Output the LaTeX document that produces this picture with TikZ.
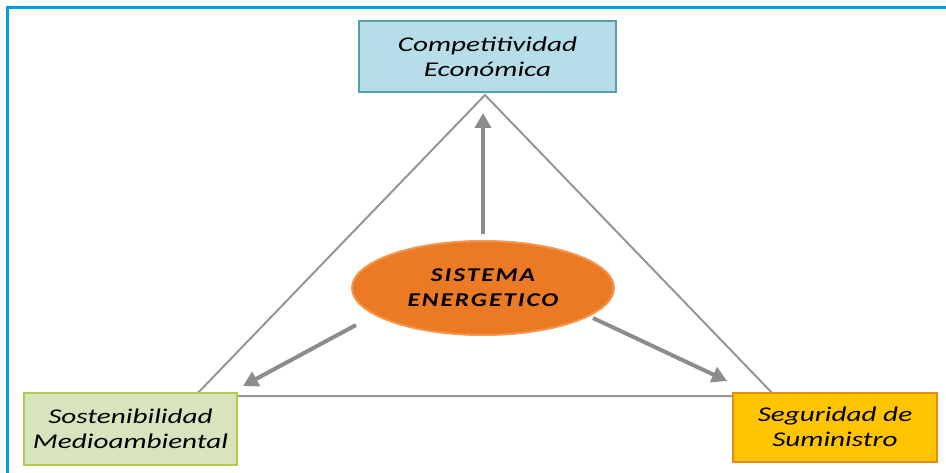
\documentclass[tikz,border=0pt]{standalone}
\usepackage{fontspec}
\setmainfont{Carlito}
\newfontfamily\rotulo[FakeStretch=1.39]{Carlito}
\newfontfamily\rotulosis[FakeStretch=1.3,LetterSpace=10]{Carlito}
\usetikzlibrary{shapes, arrows.meta, positioning}
\definecolor{marco}{RGB}{0,160,227}
\definecolor{gris}{RGB}{150,150,150}
\definecolor{grisflecha}{RGB}{140,140,140}
\definecolor{celeste}{RGB}{183,222,232}
\definecolor{bordeceleste}{RGB}{85,160,170}
\definecolor{verdeclaro}{RGB}{215,228,189}
\definecolor{bordeverde}{RGB}{175,205,70}
\definecolor{amarillo}{RGB}{255,197,0}
\definecolor{bordeamarillo}{RGB}{232,140,20}
\definecolor{naranja}{RGB}{234,122,36}
\definecolor{bordenaranja}{RGB}{242,150,80}

\begin{document}
\begin{tikzpicture}[x=1pt, y=-1pt,
    caja/.style={draw, line width=2pt, align=center, inner sep=0pt,
        font=\rotulo\itshape\fontsize{21}{25}\selectfont},
    flecha/.style={-{Triangle[length=15pt, width=16pt]}, line width=4pt, grisflecha}]
    \useasboundingbox (0,0) rectangle (946,473);
    \draw[marco, line width=3pt] (7.5,473) -- (7.5,7.5) -- (946,7.5);

    \coordinate (vSup) at (485,95);
    \coordinate (vIzq) at (195,396);
    \coordinate (vDer) at (775,396);
    \draw[gris, line width=2pt] (vIzq) -- (vSup) -- (vDer) -- cycle;

    \node[caja, fill=celeste, draw=bordeceleste, minimum width=257, minimum height=71] (eco) at (487.5,56.5) {Competitividad\\Económica};
    \node[caja, fill=verdeclaro, draw=bordeverde, minimum width=213, minimum height=72] (med) at (130.5,429) {Sostenibilidad\\Medioambiental};
    \node[caja, fill=amarillo, draw=bordeamarillo, minimum width=204, minimum height=69] (sum) at (835,427) {Seguridad de\\Suministro};

    \node[ellipse, fill=naranja, draw=bordenaranja, line width=2pt, minimum width=262, minimum height=94, inner sep=0pt, align=center,
        font=\rotulosis\bfseries\itshape\fontsize{19.5}{25}\selectfont] (sis) at (483,288) {SISTEMA\\ENERGETICO};

    \coordinate (pEco) at (483,113);
    \coordinate (sIzq) at (356,325);
    \coordinate (pIzq) at (243,386);
    \coordinate (sDer) at (593,318);
    \coordinate (pDer) at (727,381);
    \draw[flecha, shorten <=6pt] (sis.north) -- (pEco);
    \draw[flecha] (sIzq) -- (pIzq);
    \draw[flecha] (sDer) -- (pDer);
\end{tikzpicture}
\end{document}
